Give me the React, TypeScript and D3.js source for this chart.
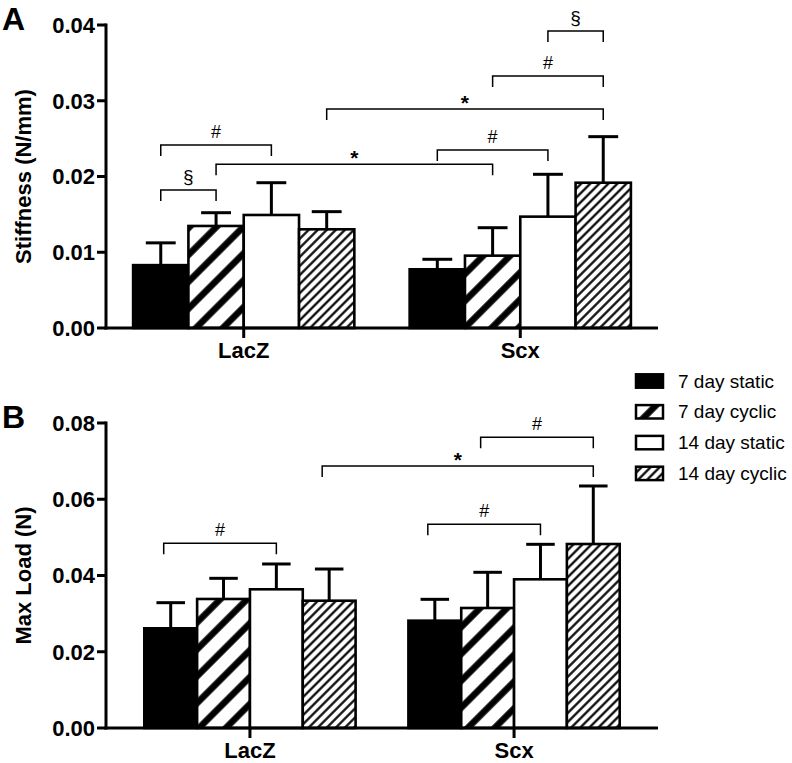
import React from "react";
import * as d3 from "d3";

const categories = ["LacZ", "Scx"];
const seriesNames = ["7 day static", "7 day cyclic", "14 day static", "14 day cyclic"];

// Panel A: Stiffness (N/mm)
const stiffnessLacZ = [0.0083, 0.01347, 0.01492, 0.01303];
const stiffnessScx = [0.00775, 0.00955, 0.0147, 0.01918];
const stiffnessErrLacZ = [0.00294, 0.00175, 0.00426, 0.00233];
const stiffnessErrScx = [0.00132, 0.00369, 0.00559, 0.00608];
const stiffnessTicks = [0, 0.01, 0.02, 0.03, 0.04];

// Panel B: Max Load (N)
const loadLacZ = [0.02615, 0.03384, 0.03638, 0.03339];
const loadScx = [0.02815, 0.03148, 0.039, 0.04826];
const loadErrLacZ = [0.00672, 0.00542, 0.00664, 0.00831];
const loadErrScx = [0.0056, 0.00936, 0.00918, 0.01522];
const loadTicks = [0, 0.02, 0.04, 0.06, 0.08];

// significance brackets: [fromBar, toBar] as (group, series), level in data units, symbol
type Bracket = { from: [number, number]; to: [number, number]; level: number; sym: string };
const stiffnessBrackets: Bracket[] = [
  { from: [0, 0], to: [0, 1], level: 0.01822, sym: "§" },
  { from: [0, 0], to: [0, 2], level: 0.02416, sym: "#" },
  { from: [0, 1], to: [1, 1], level: 0.02161, sym: "*" },
  { from: [1, 0], to: [1, 2], level: 0.0235, sym: "#" },
  { from: [0, 3], to: [1, 3], level: 0.02891, sym: "*" },
  { from: [1, 1], to: [1, 3], level: 0.03327, sym: "#" },
  { from: [1, 2], to: [1, 3], level: 0.0392, sym: "§" },
];
const loadBrackets: Bracket[] = [
  { from: [0, 0], to: [0, 2], level: 0.04845, sym: "#" },
  { from: [1, 0], to: [1, 2], level: 0.05343, sym: "#" },
  { from: [0, 3], to: [1, 3], level: 0.06872, sym: "*" },
  { from: [1, 1], to: [1, 3], level: 0.07625, sym: "#" },
];

const FONT = "'Liberation Sans', Arial, Helvetica, sans-serif";
const fills = ["#000", "url(#hatchWide)", "#fff", "url(#hatchFine)"];

type PanelProps = {
  letter: string;
  yLabel: string;
  yMax: number;
  ticks: number[];
  top: number;
  bottom: number;
  outerPad: number;
  means: number[][];
  errs: number[][];
  brackets: Bracket[];
  leftLegShift: number;
};

function Panel(p: PanelProps) {
  const axisX = 106;
  const y = d3.scaleLinear().domain([0, p.yMax]).range([p.bottom, p.top]);
  const xg = d3
    .scaleBand<string>()
    .domain(categories)
    .range([axisX, 658])
    .paddingInner(0.2)
    .paddingOuter(p.outerPad);
  const xs = d3
    .scaleBand<string>()
    .domain(seriesNames)
    .range([0, xg.bandwidth()])
    .padding(0);
  const bw = xs.bandwidth();
  const center = (g: number, s: number) =>
    (xg(categories[g]) as number) + (xs(seriesNames[s]) as number) + bw / 2;
  const capW = bw * 0.54;
  const fmt = d3.format(".2f");

  return (
    <g>
      <text x={2} y={p.top + 5} fontFamily={FONT} fontWeight="bold" fontSize={32}>
        {p.letter}
      </text>
      {/* y axis */}
      <line x1={axisX} x2={axisX} y1={p.top - 1.5} y2={p.bottom + 1.5} stroke="#000" strokeWidth={3} />
      {p.ticks.map((t) => (
        <g key={t}>
          <line x1={axisX - 9} x2={axisX} y1={y(t)} y2={y(t)} stroke="#000" strokeWidth={3} />
          <text
            x={95}
            y={y(t)}
            dy="0.36em"
            textAnchor="end"
            fontFamily={FONT}
            fontWeight="bold"
            fontSize={22}
          >
            {fmt(t)}
          </text>
        </g>
      ))}
      <text
        transform={`translate(31,${(p.top + p.bottom) / 2}) rotate(-90)`}
        textAnchor="middle"
        fontFamily={FONT}
        fontWeight="bold"
        fontSize={22}
      >
        {p.yLabel}
      </text>
      {/* bars */}
      {categories.map((c, g) =>
        seriesNames.map((s, si) => {
          const v = p.means[g][si];
          const x0 = (xg(c) as number) + (xs(s) as number);
          const yt = y(v);
          const ye = y(v + p.errs[g][si]);
          const cx = x0 + bw / 2;
          return (
            <g key={c + s}>
              <line x1={cx} x2={cx} y1={yt} y2={ye} stroke="#000" strokeWidth={3} />
              <line x1={cx - capW / 2} x2={cx + capW / 2} y1={ye} y2={ye} stroke="#000" strokeWidth={3} />
              <rect
                x={x0}
                y={yt}
                width={bw}
                height={p.bottom - yt}
                fill={fills[si]}
                stroke="#000"
                strokeWidth={2.6}
              />
            </g>
          );
        })
      )}
      {/* x axis */}
      <line x1={axisX - 1.5} x2={658} y1={p.bottom} y2={p.bottom} stroke="#000" strokeWidth={3} />
      {categories.map((c) => {
        const cx = (xg(c) as number) + xg.bandwidth() / 2;
        return (
          <g key={c}>
            <line x1={cx} x2={cx} y1={p.bottom} y2={p.bottom + 10} stroke="#000" strokeWidth={3} />
            <text
              x={cx}
              y={p.bottom + 30}
              textAnchor="middle"
              fontFamily={FONT}
              fontWeight="bold"
              fontSize={22}
            >
              {c}
            </text>
          </g>
        );
      })}
      {/* brackets */}
      {p.brackets.map((b, i) => {
        const x1 = center(b.from[0], b.from[1]) + p.leftLegShift;
        const x2 = center(b.to[0], b.to[1]);
        const yb = y(b.level);
        const leg = 11;
        const mid = (x1 + x2) / 2;
        const isStar = b.sym === "*";
        return (
          <g key={i}>
            <path
              d={`M${x1},${yb + leg}V${yb}H${x2}V${yb + leg}`}
              fill="none"
              stroke="#000"
              strokeWidth={1.5}
            />
            <text
              x={mid}
              y={isStar ? yb + 1 : yb - 7}
              textAnchor="middle"
              fontFamily={FONT}
              fontWeight={isStar ? "bold" : "normal"}
              fontSize={isStar ? 21 : b.sym === "§" ? 19 : 18}
            >
              {b.sym}
            </text>
          </g>
        );
      })}
    </g>
  );
}

export default function App() {
  const legendTop = 381;
  const legendStep = 30.8;
  return (
    <svg
      width={792}
      height={763}
      viewBox="0 0 792 763"
      style={{ position: "absolute", left: 0, top: 0, background: "#fff" }}
    >
      <defs>
        <pattern
          id="hatchWide"
          patternUnits="userSpaceOnUse"
          width={19}
          height={19}
          patternTransform="rotate(45)"
        >
          <rect width={19} height={19} fill="#fff" />
          <line x1={9.5} x2={9.5} y1={0} y2={19} stroke="#000" strokeWidth={6.5} />
        </pattern>
        <pattern
          id="hatchFine"
          patternUnits="userSpaceOnUse"
          width={6.4}
          height={6.4}
          patternTransform="rotate(45)"
        >
          <rect width={6.4} height={6.4} fill="#fff" />
          <line x1={3.2} x2={3.2} y1={0} y2={6.4} stroke="#000" strokeWidth={2.2} />
        </pattern>
      </defs>
      <rect width={792} height={763} fill="#fff" />
      <Panel
        letter="A"
        yLabel="Stiffness (N/mm)"
        yMax={0.04}
        ticks={stiffnessTicks}
        top={25}
        bottom={328}
        outerPad={0.098}
        means={[stiffnessLacZ, stiffnessScx]}
        errs={[stiffnessErrLacZ, stiffnessErrScx]}
        brackets={stiffnessBrackets}
        leftLegShift={0}
      />
      <Panel
        letter="B"
        yLabel="Max Load (N)"
        yMax={0.08}
        ticks={loadTicks}
        top={423}
        bottom={728}
        outerPad={0.145}
        means={[loadLacZ, loadScx]}
        errs={[loadErrLacZ, loadErrScx]}
        brackets={loadBrackets}
        leftLegShift={-7}
      />
      {seriesNames.map((s, i) => {
        const cy = legendTop + i * legendStep;
        return (
          <g key={s}>
            <rect
              x={636}
              y={cy - 6.7}
              width={27}
              height={13.4}
              fill={fills[i]}
              stroke="#000"
              strokeWidth={2.5}
            />
            <text x={678} y={cy + 6.5} fontFamily={FONT} fontSize={19}>
              {s}
            </text>
          </g>
        );
      })}
    </svg>
  );
}
